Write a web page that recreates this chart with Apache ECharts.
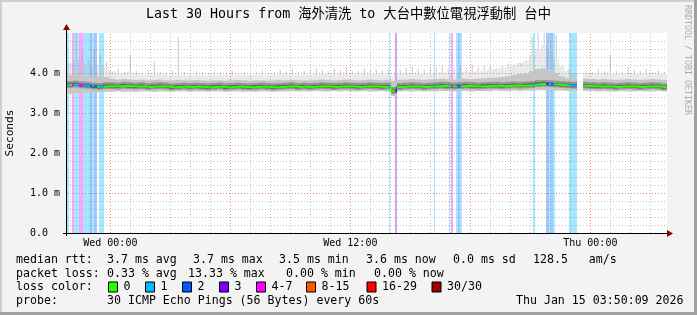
<!DOCTYPE html>
<html>
<head>
<meta charset="utf-8">
<script src="https://cdn.jsdelivr.net/npm/echarts@6/dist/echarts.min.js"></script>
<style>
html,body{margin:0;padding:0;background:#f3f3f3;}
#c{width:697px;height:315px;}
</style>
</head>
<body>
<div id="c"></div>
<script>
// ---------------- data ----------------
const START_HOUR = 21 + 50 / 60;          // Tue 21:50 (hours since Tue 00:00)
const END_HOUR = START_HOUR + 30;         // Thu 03:50
const BIN_HOURS = 0.3;                    // each value below covers 18 minutes
const Y_MAX = 5;                          // ms

const median = [
  3.70,3.71,3.69,3.68,3.66,3.65,3.67,3.67,3.66,3.68,
  3.67,3.66,3.67,3.65,3.66,3.67,3.66,3.64,3.65,3.66,
  3.65,3.66,3.65,3.64,3.65,3.66,3.64,3.65,3.66,3.65,
  3.64,3.65,3.66,3.65,3.64,3.65,3.66,3.67,3.65,3.66,
  3.65,3.66,3.67,3.66,3.65,3.66,3.67,3.66,3.65,3.66,
  3.67,3.66,3.65,3.66,3.55,3.65,3.66,3.67,3.66,3.65,
  3.66,3.67,3.68,3.67,3.66,3.67,3.68,3.67,3.66,3.67,
  3.68,3.68,3.67,3.68,3.69,3.68,3.69,3.70,3.72,3.73,
  3.72,3.71,3.70,3.69,3.68,null,3.68,3.67,3.66,3.67,
  3.66,3.65,3.66,3.67,3.66,3.65,3.66,3.67,3.66,3.64
];
const smokeLow = [
  3.48,3.50,3.50,3.51,3.52,3.52,3.53,3.53,3.54,3.53,
  3.54,3.53,3.54,3.54,3.53,3.54,3.54,3.53,3.54,3.54,
  3.53,3.54,3.54,3.53,3.54,3.54,3.53,3.54,3.54,3.53,
  3.54,3.53,3.54,3.54,3.53,3.54,3.54,3.55,3.54,3.54,
  3.54,3.55,3.54,3.54,3.55,3.54,3.55,3.54,3.54,3.55,
  3.54,3.54,3.55,3.53,3.42,3.54,3.55,3.54,3.55,3.54,
  3.55,3.54,3.55,3.55,3.54,3.55,3.55,3.54,3.55,3.55,
  3.55,3.56,3.55,3.55,3.56,3.55,3.56,3.56,3.57,3.57,
  3.57,3.56,3.56,3.55,3.55,null,3.55,3.55,3.54,3.55,
  3.54,3.54,3.55,3.54,3.54,3.55,3.54,3.54,3.55,3.54
];
const smokeHigh = [
  3.95,3.98,3.96,3.92,3.90,3.92,3.90,3.86,3.84,3.85,
  3.84,3.83,3.84,3.82,3.83,3.84,3.82,3.82,3.83,3.82,
  3.82,3.83,3.82,3.81,3.82,3.82,3.81,3.82,3.83,3.82,
  3.81,3.82,3.82,3.81,3.82,3.83,3.82,3.83,3.82,3.82,
  3.82,3.83,3.84,3.83,3.82,3.83,3.84,3.83,3.82,3.83,
  3.84,3.83,3.82,3.84,3.80,3.83,3.84,3.85,3.84,3.83,
  3.84,3.85,3.86,3.85,3.84,3.85,3.86,3.85,3.86,3.87,
  3.88,3.89,3.90,3.92,3.95,3.98,4.00,4.05,4.10,4.12,
  4.08,4.00,3.92,3.88,3.85,null,3.86,3.85,3.84,3.85,
  3.84,3.83,3.84,3.85,3.84,3.83,3.84,3.85,3.84,3.83
];
const smokeHaze = [
  4.25,4.35,4.30,4.20,4.15,4.20,4.15,4.05,3.98,4.00,
  4.02,3.98,3.96,3.95,3.97,3.98,3.95,3.94,3.96,3.95,
  3.94,3.96,3.95,3.94,3.95,3.96,3.94,3.95,3.96,3.95,
  3.94,3.95,3.96,3.94,3.95,3.97,3.96,3.97,3.95,3.96,
  3.96,3.97,3.98,3.97,3.96,3.98,3.99,3.97,3.96,3.98,
  3.99,3.97,3.96,3.98,3.92,3.97,3.99,4.00,3.98,3.97,
  3.99,4.00,4.02,4.00,3.99,4.01,4.03,4.02,4.04,4.06,
  4.08,4.10,4.12,4.15,4.20,4.25,4.30,4.45,4.60,4.70,
  4.55,4.35,4.15,4.05,3.98,null,4.00,3.99,3.98,4.00,
  3.99,3.97,3.98,4.00,3.98,3.97,3.98,4.00,3.98,3.97
];
const smokeMax = [
  4.24,5.00,4.58,4.35,4.60,4.45,4.28,4.05,4.10,4.02,
  4.45,4.05,4.00,4.08,4.30,4.02,4.00,4.05,4.90,4.02,
  4.00,4.05,4.02,4.00,4.04,4.01,3.99,4.05,4.00,4.02,
  3.99,4.03,4.06,4.00,4.02,4.08,4.04,4.10,4.03,4.05,
  4.06,4.12,4.08,4.05,4.10,4.07,4.15,4.06,4.05,4.12,
  4.08,4.10,4.06,4.09,4.00,4.08,4.12,4.15,4.10,4.08,
  4.12,4.14,4.18,4.12,4.10,4.15,4.12,4.20,4.14,4.18,
  4.16,4.12,4.18,4.24,4.22,4.20,4.28,4.90,5.00,5.00,
  5.00,4.95,4.20,4.10,3.95,null,4.05,4.02,4.10,4.05,
  4.45,4.05,4.02,4.15,4.08,4.05,4.10,4.02,4.06,4.03
];

// packet-loss periods (hours since Tue 00:00) and lost pings out of 30
const lossStart = [21.833,22.108,22.183,22.433,22.633,22.983,23.083,23.183,23.458,
                   37.933,38.233,40.183,40.950,41.050,41.283,41.408,41.483,
                   45.150,45.783,45.950,46.017,46.117,46.950];
const lossEnd   = [21.958,22.183,22.433,22.633,22.983,23.083,23.183,23.358,23.683,
                   37.983,38.333,40.233,41.000,41.120,41.383,41.483,41.567,
                   45.220,45.950,46.017,46.117,46.258,47.317];
const lossCount = [1,4,1,4,1,2,1,2,1,
                   1,3,1,1,4,1,2,1,
                   1,2,1,2,1,1];

const xLabelHours = [24, 36, 48];
const xLabels = ['Wed 00:00', 'Wed 12:00', 'Thu 00:00'];
const yLabelValues = [0, 1, 2, 3, 4];
const yLabels = ['0.0  ', '1.0 m', '2.0 m', '3.0 m', '4.0 m'];

const lossLegendLabels = ['0', '1', '2', '3', '4-7', '8-15', '16-29', '30/30'];
const lossLegendColors = ['#26ff00', '#00b8ff', '#0059ff', '#7e00ff', '#ff00ff', '#ff5500', '#ff0000', '#a10000'];

const titleText = 'Last 30 Hours from 海外清洗 to 大台中數位電視浮動制 台中';
const rttRow = ['median rtt:', '3.7 ms avg', '3.7 ms max', '3.5 ms min', '3.6 ms now', '0.0 ms sd', '128.5   am/s'];
const lossRow = ['packet loss:', '0.33 % avg', '13.33 % max', '0.00 % min', '0.00 % now'];
const probeRow = ['probe:', '30 ICMP Echo Pings (56 Bytes) every 60s'];
const stampText = 'Thu Jan 15 03:50:09 2026';

// ---------------- layout / style ----------------
const MONO = '"DejaVu Sans Mono", "Noto Sans CJK TC", monospace';
const rttX = [16, 107, 193, 279, 366, 453, 533];
const lossX = [16, 107, 188, 286, 374];
const boxX = [108.5, 145.5, 182.5, 219.5, 256.5, 306.5, 367, 432];
const rowY = [259.5, 273.5, 287, 301];

function lossIndex(n) {
  if (n <= 0) return 0;
  if (n < 4) return n;
  if (n < 8) return 4;
  if (n < 16) return 5;
  if (n < 30) return 6;
  return 7;
}
function rgba(hex, a) {
  const r = parseInt(hex.slice(1, 3), 16), g = parseInt(hex.slice(3, 5), 16), b = parseInt(hex.slice(5, 7), 16);
  return 'rgba(' + r + ',' + g + ',' + b + ',' + a + ')';
}

// ---------------- build series data ----------------
const smokeData = [];
median.forEach(function (m, i) {
  if (m == null) return;
  smokeData.push([START_HOUR + i * BIN_HOURS, smokeLow[i], smokeHigh[i], smokeHaze[i], smokeMax[i], m]);
});
const lineData = median.map(function (m, i) { return [START_HOUR + i * BIN_HOURS, m]; });
lineData.push([END_HOUR, median[median.length - 1]]);

const lossData = lossStart.map(function (s, i) { return [s, lossEnd[i], lossCount[i]]; });

const gridData = [];
for (let h = Math.ceil(START_HOUR); h <= END_HOUR; h++) gridData.push([0, h, h % 6 === 0 ? 1 : 0]);
for (let k = 1; k < Y_MAX * 5; k++) gridData.push([1, k / 5, k % 5 === 0 ? 1 : 0]);

const xLabelData = xLabelHours.map(function (h, i) { return [h, i]; });

const chart = echarts.init(document.getElementById('c'), null, { renderer: 'canvas', width: 697, height: 315 });

const option = {
  animation: false,
  backgroundColor: '#f3f3f3',
  grid: { left: 67, right: 30, top: 33, bottom: 82, show: true, backgroundColor: '#ffffff', borderWidth: 0 },
  xAxis: {
    type: 'value', min: START_HOUR, max: END_HOUR,
    axisLine: { show: false }, axisTick: { show: false }, splitLine: { show: false }, axisLabel: { show: false }
  },
  yAxis: {
    type: 'value', min: 0, max: Y_MAX, interval: 1,
    axisLine: { show: false }, axisTick: { show: false }, splitLine: { show: false },
    axisLabel: {
      showMaxLabel: false, margin: 7, fontFamily: MONO, fontSize: 10, color: '#000',
      formatter: function (v) { const i = yLabelValues.indexOf(v); return i >= 0 ? yLabels[i] : ''; }
    }
  },
  visualMap: {
    show: false, type: 'piecewise', seriesIndex: 3, dimension: 0,
    pieces: lossData.map(function (d) { return { gte: d[0], lt: d[1], color: lossLegendColors[lossIndex(d[2])] }; }),
    outOfRange: { color: lossLegendColors[0] }
  },
  series: [
    { // grid
      type: 'custom', z: 1, silent: true, data: gridData,
      renderItem: function (params, api) {
        const kind = api.value(0), v = api.value(1), major = api.value(2);
        const stroke = major ? '#e58d8d' : '#c2c2c2';
        if (kind === 0) {
          const a = api.coord([v, 0]), b = api.coord([v, Y_MAX]);
          const x = Math.round(a[0]) + 0.5;
          return { type: 'line', shape: { x1: x, y1: a[1], x2: x, y2: b[1] }, style: { stroke: stroke, lineWidth: 1, lineDash: [1, 2] } };
        }
        const a = api.coord([START_HOUR, v]), b = api.coord([END_HOUR, v]);
        const y = Math.round(a[1]) + 0.5;
        return { type: 'line', shape: { x1: a[0], y1: y, x2: b[0], y2: y }, style: { stroke: stroke, lineWidth: 1, lineDash: [1, 2] } };
      }
    },
    { // loss background
      type: 'custom', z: 2, silent: true, data: lossData,
      renderItem: function (params, api) {
        const p0 = api.coord([api.value(0), Y_MAX]), p1 = api.coord([api.value(1), 0]);
        const x = Math.round(p0[0]);
        const w = Math.max(1, Math.round(p1[0]) - x);
        return { type: 'rect', shape: { x: x, y: p0[1], width: w, height: p1[1] - p0[1] },
                 style: { fill: rgba(lossLegendColors[lossIndex(api.value(2))], 0.35) } };
      }
    },
    { // smoke
      type: 'custom', z: 3, silent: true, data: smokeData,
      renderItem: function (params, api) {
        const x0 = api.value(0);
        const lo = api.value(1), hi = api.value(2), hz = api.value(3), mx = api.value(4), md = api.value(5);
        const xs = api.coord([x0, 0])[0], xe = api.coord([x0 + BIN_HOURS, 0])[0];
        const Y = function (v) { return api.coord([x0, v])[1]; };
        const rect = function (a, b, fill) {
          return { type: 'rect', shape: { x: xs, y: Y(b), width: xe - xs, height: Y(a) - Y(b) }, style: { fill: fill } };
        };
        return { type: 'group', children: [
          { type: 'rect', shape: { x: xs, y: Y(hz), width: xe - xs, height: Y(hi) - Y(hz) }, style: { fill: 'rgba(160,160,160,0.22)' } },
          { type: 'rect', shape: { x: (xs + xe) / 2 - 0.5, y: Y(mx), width: 1.5, height: Y(hz) - Y(mx) }, style: { fill: 'rgba(150,150,150,0.35)' } },
          rect(lo, hi, '#c6c6c6'),
          rect(md - 0.07, md + 0.10, '#969696'),
          rect(md - 0.035, md + 0.045, '#5e5e5e')
        ] };
      }
    },
    { // median rtt
      type: 'line', z: 4, data: lineData, step: 'end', showSymbol: false, silent: true,
      lineStyle: { width: 2 }
    },
    { // x labels
      type: 'custom', z: 5, silent: true, data: xLabelData, clip: false,
      renderItem: function (params, api) {
        const p = api.coord([api.value(0), 0]);
        return { type: 'text', x: p[0], y: p[1] + 10,
                 style: { text: xLabels[api.value(1)], font: '10px ' + MONO, fill: '#000', align: 'center', verticalAlign: 'middle' } };
      }
    }
  ]
};
chart.setOption(option);

// ---------------- decorations ----------------
function txt(x, y, text, font, opts) {
  opts = opts || {};
  return { type: 'text', x: x, y: y, rotation: opts.rotation || 0, silent: true, z: 100,
    style: { text: text, font: font, fill: opts.fill || '#000',
             align: opts.align || 'left', verticalAlign: 'middle',
             textAlign: opts.align || 'left', textVerticalAlign: 'middle' } };
}
const o = chart.convertToPixel({ gridIndex: 0 }, [START_HOUR, 0]);
const e = chart.convertToPixel({ gridIndex: 0 }, [END_HOUR, Y_MAX]);
const LEG = '11.6px ' + MONO;
const g = [];
// frame shading
g.push({ type: 'rect', shape: { x: 0, y: 0, width: 697, height: 2 }, style: { fill: '#cfcfcf' }, z: 100, silent: true });
g.push({ type: 'rect', shape: { x: 0, y: 0, width: 2, height: 315 }, style: { fill: '#cfcfcf' }, z: 100, silent: true });
g.push({ type: 'rect', shape: { x: 0, y: 312, width: 697, height: 3 }, style: { fill: '#a0a0a0' }, z: 100, silent: true });
g.push({ type: 'rect', shape: { x: 694, y: 0, width: 3, height: 315 }, style: { fill: '#a0a0a0' }, z: 100, silent: true });
// axes
g.push({ type: 'line', shape: { x1: o[0] - 4, y1: o[1] + 0.5, x2: e[0] + 1, y2: o[1] + 0.5 }, style: { stroke: '#000', lineWidth: 1 }, z: 100, silent: true });
g.push({ type: 'line', shape: { x1: o[0] - 0.5, y1: o[1] + 3, x2: o[0] - 0.5, y2: e[1] - 3 }, style: { stroke: '#000', lineWidth: 1 }, z: 100, silent: true });
g.push({ type: 'polygon', shape: { points: [[e[0], o[1] - 3], [e[0] + 6, o[1] + 0.5], [e[0], o[1] + 4]] }, style: { fill: '#900000' }, z: 100, silent: true });
g.push({ type: 'polygon', shape: { points: [[o[0] - 4, e[1] - 3], [o[0] - 0.5, e[1] - 9], [o[0] + 3, e[1] - 3]] }, style: { fill: '#900000' }, z: 100, silent: true });
// title, axis name, watermark
g.push(txt(348.5, 15, titleText, '13.3px ' + MONO, { align: 'center' }));
g.push(txt(10.5, 133, 'Seconds', '11.2px ' + MONO, { align: 'center', rotation: Math.PI / 2 }));
g.push(txt(687.5, 60, 'RRDTOOL / TOBI OETIKER', '8.3px ' + MONO, { align: 'center', rotation: -Math.PI / 2, fill: '#ababab' }));
// legend rows
rttRow.forEach(function (t, i) { g.push(txt(rttX[i], rowY[0], t, LEG)); });
lossRow.forEach(function (t, i) { g.push(txt(lossX[i], rowY[1], t, LEG)); });
g.push(txt(16, rowY[2], 'loss color:', LEG));
lossLegendLabels.forEach(function (t, i) {
  g.push({ type: 'rect', shape: { x: boxX[i], y: rowY[2] - 5, width: 9, height: 10 },
           style: { fill: lossLegendColors[i], stroke: '#000', lineWidth: 1 }, z: 100, silent: true });
  g.push(txt(boxX[i] + 15, rowY[2], t, LEG));
});
g.push(txt(16, rowY[3], probeRow[0], LEG));
g.push(txt(107, rowY[3], probeRow[1], LEG));
g.push(txt(683.5, rowY[3], stampText, LEG, { align: 'right' }));
chart.setOption({ graphic: { elements: g } });
</script>
</body>
</html>
